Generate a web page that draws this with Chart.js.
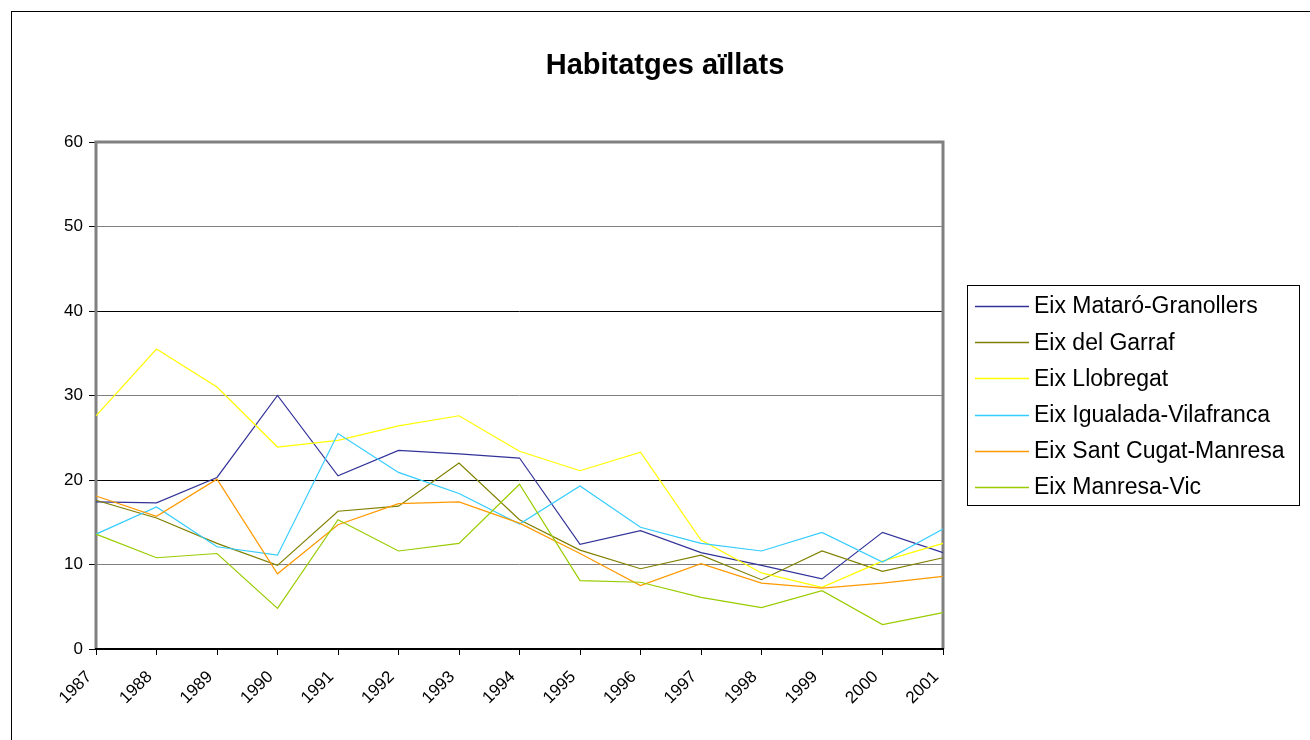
<!DOCTYPE html>
<html>
<head>
<meta charset="utf-8">
<title>Habitatges aïllats</title>
<script src="https://cdn.jsdelivr.net/npm/chart.js@4/dist/chart.umd.min.js"></script>
<style>
html,body{margin:0;padding:0;background:#fff;overflow:hidden}
#frame{position:absolute;left:11px;top:11px;width:1340px;height:780px;border:1px solid #000}
#wrap{position:absolute;left:0;top:0;width:1310px;height:740px}
</style>
</head>
<body>
<div id="frame"></div>
<div id="wrap"><canvas id="analysisChart" width="1310" height="740"></canvas></div>
<script>

const chartTitle = "Habitatges aïllats"

const years = ["1987","1988","1989","1990","1991","1992","1993","1994","1995","1996","1997","1998","1999","2000","2001"]

const seriesNames = ["Eix Mataró-Granollers","Eix del Garraf","Eix Llobregat","Eix Igualada-Vilafranca","Eix Sant Cugat-Manresa","Eix Manresa-Vic"]

const mataroGranollers = [17.4,17.3,20.3,30.0,20.5,23.5,23.1,22.6,12.4,14.0,11.4,9.9,8.3,13.8,11.4]
const garraf = [17.6,15.5,12.5,9.9,16.3,16.9,22.0,15.3,11.7,9.5,11.1,8.2,11.6,9.2,10.8]
const llobregat = [27.6,35.5,31.0,23.9,24.7,26.4,27.6,23.4,21.1,23.3,12.9,9.0,7.3,10.4,12.5]
const igualadaVilafranca = [13.6,16.8,12.1,11.1,25.5,20.9,18.4,14.8,19.3,14.4,12.5,11.6,13.8,10.3,14.2]
const santCugatManresa = [18.1,15.7,20.1,8.9,14.7,17.2,17.4,14.9,11.3,7.5,10.1,7.8,7.2,7.8,8.6]
const manresaVic = [13.6,10.8,11.3,4.8,15.3,11.6,12.5,19.5,8.1,7.9,6.1,4.9,6.9,2.9,4.3]

const seriesColors = ["#333399","#808000","#FFFF00","#33CCFF","#FF9900","#99CC00"]

const allSeries = [mataroGranollers,garraf,llobregat,igualadaVilafranca,santCugatManresa,manresaVic]

const font = "Arial, 'Liberation Sans', sans-serif"

// title, plot frame and boxed legend drawn by hand like the old excel chart
const excelLook = {
id:"excelLook",
beforeDatasetsDraw(chart){
const c = chart.ctx
const a = chart.chartArea
c.save()
c.strokeStyle = "#808080"
c.lineWidth = 3
c.beginPath()
c.moveTo(a.left,a.bottom)
c.lineTo(a.left,a.top)
c.lineTo(a.right,a.top)
c.lineTo(a.right,a.bottom)
c.stroke()
c.strokeStyle = "#000"
c.lineWidth = 2
c.beginPath()
c.moveTo(a.left-1,a.bottom)
c.lineTo(a.right+1,a.bottom)
c.stroke()
c.restore()
},
afterDraw(chart){
const c = chart.ctx
c.save()
c.fillStyle = "#000"
c.font = "bold 29px " + font
c.textAlign = "center"
c.textBaseline = "alphabetic"
c.fillText(chartTitle,665,74)

c.strokeStyle = "#000"
c.lineWidth = 1
c.strokeRect(967.5,285.5,332,220)
c.font = "23px " + font
c.textAlign = "left"
c.textBaseline = "middle"
chart.data.datasets.forEach((ds,i)=>{
const y = 306 + i*36.2
c.strokeStyle = ds.borderColor
c.lineWidth = 1.3
c.beginPath()
c.moveTo(975,Math.round(y)+0.5)
c.lineTo(1029,Math.round(y)+0.5)
c.stroke()
c.fillStyle = "#000"
c.fillText(ds.label,1034,y+1)
})
c.restore()
}
}

const datasets = seriesNames.map((name,i)=>({
label:name,
data:allSeries[i],
borderColor:seriesColors[i],
backgroundColor:seriesColors[i],
borderWidth:1.2,
pointRadius:0,
tension:0,
fill:false,
order:seriesNames.length-i
}))

const ctx = document.getElementById("analysisChart")

new Chart(ctx,{
type:"line",
data:{
labels:years,
datasets:datasets
},
options:{
responsive:false,
animation:false,
layout:{padding:{top:142,right:367,bottom:0,left:0}},
plugins:{
legend:{display:false},
title:{display:false},
tooltip:{enabled:false}
},
scales:{
x:{
offset:false,
afterFit(scale){scale.height = 91},
border:{display:false},
grid:{drawOnChartArea:false,drawTicks:true,tickLength:6,tickColor:"#000",lineWidth:1},
ticks:{color:"#000",font:{family:font,size:17},minRotation:45,maxRotation:45,padding:12,labelOffset:-7,autoSkip:false}
},
y:{
min:0,
max:60,
afterFit(scale){scale.width = 96},
border:{display:false},
grid:{
color:c=>(c.tick && (c.tick.value===20 || c.tick.value===40)) ? "#000" : "#808080",
lineWidth:1,
tickLength:7,
tickColor:"#000"
},
ticks:{stepSize:10,color:"#000",font:{family:font,size:17},padding:6}
}
}
},
plugins:[excelLook]
})

</script>
</body>
</html>
